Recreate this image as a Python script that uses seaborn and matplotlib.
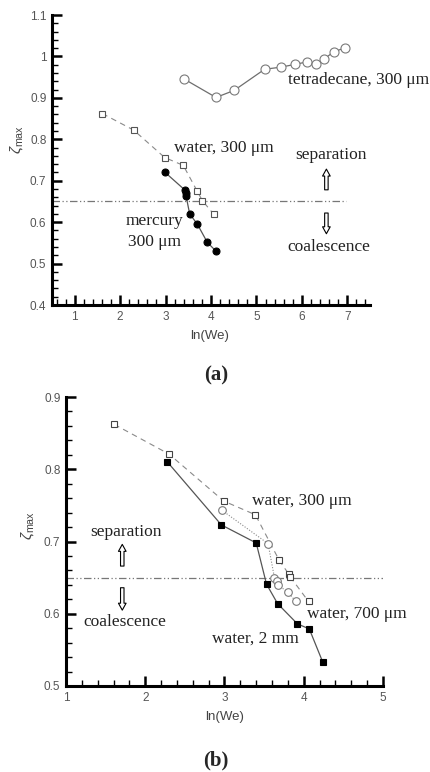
import matplotlib
matplotlib.use("Agg")
import matplotlib.pyplot as plt
import matplotlib.ticker as mticker
import seaborn as sns
import pandas as pd

# ---------------- data: panel (a) ----------------
tetra_x = [3.40, 4.11, 4.51, 5.18, 5.53, 5.86, 6.12, 6.32, 6.48, 6.70, 6.96]
tetra_y = [0.946, 0.901, 0.918, 0.969, 0.974, 0.981, 0.987, 0.982, 0.993, 1.011, 1.021]

water300_x = [1.61, 2.30, 2.98, 3.39, 3.70, 3.81, 4.06]
water300_y = [0.862, 0.822, 0.756, 0.737, 0.674, 0.652, 0.619]

mercury_x = [2.98, 3.43, 3.44, 3.45, 3.53, 3.70, 3.92, 4.11]
mercury_y = [0.721, 0.677, 0.670, 0.664, 0.620, 0.595, 0.551, 0.530]

# ---------------- data: panel (b) ----------------
b_w300_x = [1.61, 2.30, 2.99, 3.39, 3.69, 3.81, 3.83, 4.06]
b_w300_y = [0.862, 0.821, 0.756, 0.737, 0.674, 0.655, 0.651, 0.617]

b_w700_x = [2.97, 3.55, 3.63, 3.66, 3.67, 3.80, 3.90]
b_w700_y = [0.743, 0.697, 0.650, 0.646, 0.640, 0.630, 0.617]

b_w2mm_x = [2.28, 2.96, 3.40, 3.53, 3.67, 3.92, 4.07, 4.24]
b_w2mm_y = [0.810, 0.723, 0.698, 0.641, 0.614, 0.586, 0.579, 0.533]

threshold = 0.65

sns.set_style("white")
plt.rcParams['font.family'] = ['Liberation Sans', 'DejaVu Sans']
plt.rcParams['mathtext.fontset'] = 'custom'
plt.rcParams['mathtext.rm'] = 'Liberation Sans'
plt.rcParams['mathtext.it'] = 'Liberation Sans:italic'

SERIF = ['Liberation Serif', 'DejaVu Serif']
LINE_GRAY = '#6e6e6e'
MARK_GRAY = '#7a7a7a'
TICK_GRAY = '#555555'

fig = plt.figure(figsize=(4.31, 7.72), dpi=100)
axa = fig.add_axes([52/431, 1-305/772, 318/431, 290/772])
axb = fig.add_axes([66/431, 1-686/772, 317/431, 289/772])


def style_axes(ax, xlim, ylim, xmajor, ymajor):
    ax.set_xlim(*xlim)
    ax.set_ylim(*ylim)
    for s in ['top', 'right']:
        ax.spines[s].set_visible(False)
    for s in ['left', 'bottom']:
        ax.spines[s].set_linewidth(2.2)
        ax.spines[s].set_color('black')
    ax.xaxis.set_major_locator(mticker.MultipleLocator(xmajor))
    ax.xaxis.set_minor_locator(mticker.MultipleLocator(xmajor / 5))
    ax.yaxis.set_major_locator(mticker.MultipleLocator(ymajor))
    ax.yaxis.set_minor_locator(mticker.MultipleLocator(ymajor / 5))
    ax.yaxis.set_major_formatter(mticker.FuncFormatter(lambda v, p: f"{v:g}"))
    ax.tick_params(which='major', direction='in', length=7, width=1.8,
                   colors='black', labelcolor=TICK_GRAY, labelsize=8.5,
                   bottom=True, left=True, top=False, right=False, pad=4)
    ax.tick_params(which='minor', direction='in', length=4, width=1.0,
                   colors='black', bottom=True, left=True, top=False, right=False)
    ax.set_xlabel('ln(We)', fontsize=9.5, color='#444444')
    ax.set_ylabel(r'$\zeta_{\rm max}$', fontsize=11, color='#444444')


def series(ax, x, y, ls, marker, ms, mfc, mec, lw=0.9, color=LINE_GRAY):
    df = pd.DataFrame({'x': x, 'y': y})
    sns.lineplot(data=df, x='x', y='y', ax=ax, sort=False, estimator=None,
                 color=color, linestyle=ls, linewidth=lw, marker=marker,
                 markersize=ms, markerfacecolor=mfc, markeredgecolor=mec,
                 markeredgewidth=0.8, legend=False)


def hollow_arrow(ax, x, y0, y1):
    ax.annotate('', xy=(x, y1), xytext=(x, y0),
                arrowprops=dict(arrowstyle='simple,head_width=0.55,head_length=0.5,tail_width=0.25',
                                fc='white', ec='black', lw=0.8, shrinkA=0, shrinkB=0))


def dashdot_line(ax, x0, x1):
    df = pd.DataFrame({'x': [x0, x1], 'y': [threshold, threshold]})
    sns.lineplot(data=df, x='x', y='y', ax=ax, color='#777777', linewidth=0.9,
                 linestyle=(0, (6, 2, 1, 2, 1, 2)), legend=False)


# ---------------- panel (a) ----------------
dashdot_line(axa, 0.5, 6.98)
series(axa, tetra_x, tetra_y, '-', 'o', 6.5, 'white', MARK_GRAY)
series(axa, water300_x, water300_y, (0, (5, 4)), 's', 4, 'white', '#555555', lw=0.8, color='#8a8a8a')
series(axa, mercury_x, mercury_y, '-', 'o', 5, 'black', 'black', lw=0.9, color='#555555')
style_axes(axa, (0.5, 7.5), (0.4, 1.1), 1, 0.1)
axa.xaxis.set_label_coords(0.497, -0.085)
axa.yaxis.set_label_coords(-0.085, 0.57)

tf = dict(family=SERIF, fontsize=12.5, color='#222222')
axa.text(5.70, 0.942, 'tetradecane, 300 μm', ha='left', va='center', **tf)
axa.text(3.18, 0.780, 'water, 300 μm', ha='left', va='center', **tf)
axa.text(6.65, 0.763, 'separation', ha='center', va='center', **tf)
axa.text(6.60, 0.540, 'coalescence', ha='center', va='center', **tf)
axa.text(2.76, 0.603, 'mercury', ha='center', va='center', **tf)
axa.text(2.76, 0.552, '300 μm', ha='center', va='center', **tf)
hollow_arrow(axa, 6.54, 0.678, 0.728)
hollow_arrow(axa, 6.54, 0.622, 0.572)

# ---------------- panel (b) ----------------
dashdot_line(axb, 1.0, 5.0)
series(axb, b_w300_x, b_w300_y, (0, (5, 4)), 's', 4, 'white', '#444444', lw=0.8, color='#8a8a8a')
series(axb, b_w700_x, b_w700_y, (0, (1, 1.5)), 'o', 5.5, 'white', MARK_GRAY, lw=0.8, color='#8a8a8a')
series(axb, b_w2mm_x, b_w2mm_y, '-', 's', 4, 'black', 'black', lw=0.9, color='#555555')
style_axes(axb, (1, 5), (0.5, 0.9), 1, 0.1)
axb.xaxis.set_label_coords(0.5, -0.085)
axb.yaxis.set_label_coords(-0.095, 0.557)

axb.text(3.35, 0.756, 'water, 300 μm', ha='left', va='center', **tf)
axb.text(1.76, 0.713, 'separation', ha='center', va='center', **tf)
axb.text(1.74, 0.588, 'coalescence', ha='center', va='center', **tf)
axb.text(4.04, 0.600, 'water, 700 μm', ha='left', va='center', **tf)
axb.text(2.84, 0.566, 'water, 2 mm', ha='left', va='center', **tf)
hollow_arrow(axb, 1.71, 0.666, 0.696)
hollow_arrow(axb, 1.71, 0.636, 0.605)

fig.text(216/431, 1-375/772, '(a)', family=SERIF, fontsize=15, fontweight='bold',
         ha='center', va='center')
fig.text(216/431, 1-760/772, '(b)', family=SERIF, fontsize=15, fontweight='bold',
         ha='center', va='center')

fig.savefig('out.png', dpi=100)
